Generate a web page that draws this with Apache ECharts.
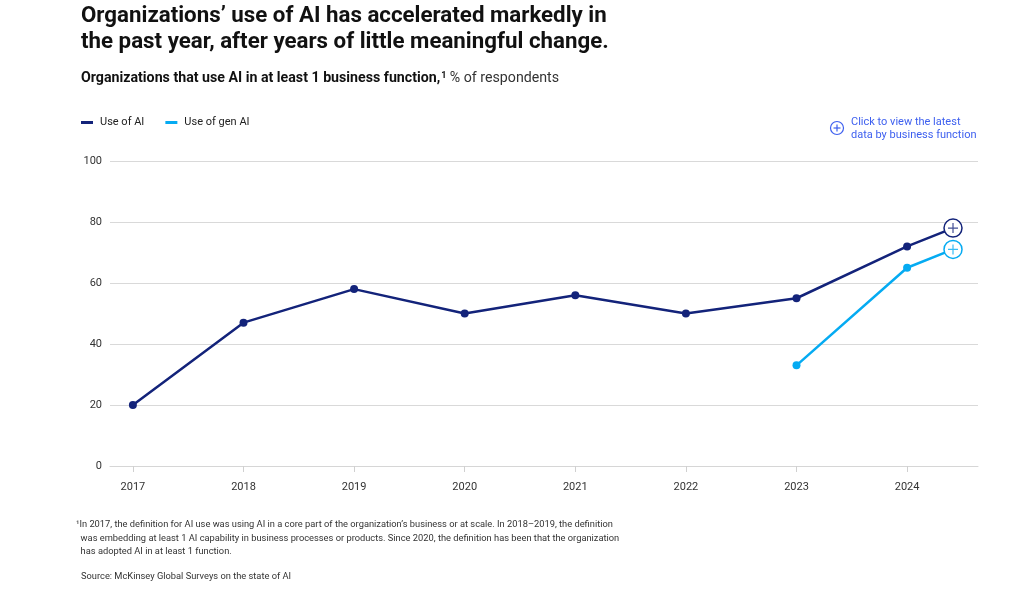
<!DOCTYPE html>
<html>
<head>
<meta charset="utf-8">
<script src="https://cdn.jsdelivr.net/npm/echarts@6/dist/echarts.min.js"></script>
<style>
html,body{margin:0;padding:0;background:#fff;}
#c{width:1024px;height:589px;}
</style>
</head>
<body>
<div id="c"></div>
<script>
// ---- data ----
var years = [2017, 2018, 2019, 2020, 2021, 2022, 2023, 2024];
var aiUse = [20, 47, 58, 50, 56, 50, 55, 72];
var genAiUse = [null, null, null, null, null, null, 33, 65];
var latestYear = 2024.415;
var latestAi = 78;
var latestGenAi = 71;
var yTicks = [0, 20, 40, 60, 80, 100];

var navy = '#13237A';
var cyan = '#05ABF2';
var font = 'Roboto, "Liberation Sans", sans-serif';

function pairs(xs, ys) {
  var out = [];
  for (var i = 0; i < xs.length; i++) if (ys[i] != null) out.push([xs[i], ys[i]]);
  return out;
}
function latestItem(x, y, col) {
  return {value: [x, y], symbol: 'circle', symbolSize: 18,
    itemStyle: {color: '#fff', borderColor: col, borderWidth: 1.5}};
}
var aiData = pairs(years, aiUse).concat([latestItem(latestYear, latestAi, navy)]);
var genData = pairs(years, genAiUse).concat([latestItem(latestYear, latestGenAi, cyan)]);
var plusPath = 'path://M4.4,0H5.6V4.4H10V5.6H5.6V10H4.4V5.6H0V4.4H4.4Z';

var chart = echarts.init(document.getElementById('c'));
chart.setOption({
  animation: false,
  textStyle: {fontFamily: font},
  title: [
    {text: 'Organizations\u2019 use of AI has accelerated markedly in\nthe past year, after years of little meaningful change.',
     left: 81, top: 3, padding: 0,
     textStyle: {fontFamily: font, fontSize: 22.3, fontWeight: 'bold', color: '#111', lineHeight: 26}},
    {text: '{b|Organizations that use AI in at least 1 business function,}{s|1}{r| % of respondents}',
     left: 81, top: 71, padding: 0,
     textStyle: {fontWeight: 'normal', rich: {
       b: {fontFamily: font, fontSize: 14.2, fontWeight: 'bold', color: '#111'},
       s: {fontFamily: font, fontSize: 9, fontWeight: 'bold', color: '#111', verticalAlign: 'top', padding: [0, 0, 6, 1]},
       r: {fontFamily: font, fontSize: 14.2, fontWeight: 'normal', color: '#333'}
     }}},
    {text: 'Click to view the latest\ndata by business function',
     left: 851, top: 116, padding: 0,
     textStyle: {fontFamily: font, fontSize: 11, fontWeight: 'normal', color: '#3D5FEF', lineHeight: 13}},
    {text: '\u00B9In 2017, the definition for AI use was using AI in a core part of the organization\u2019s business or at scale. In 2018\u20132019, the definition\n  was embedding at least 1 AI capability in business processes or products. Since 2020, the definition has been that the organization\n  has adopted AI in at least 1 function.',
     left: 76, top: 518, padding: 0,
     textStyle: {fontFamily: font, fontSize: 9.3, fontWeight: 'normal', color: '#333', lineHeight: 13.5}},
    {text: 'Source: McKinsey Global Surveys on the state of AI',
     left: 81, top: 572, padding: 0,
     textStyle: {fontFamily: font, fontSize: 9.3, fontWeight: 'normal', color: '#333'}}
  ],
  graphic: [
    {type: 'circle', shape: {cx: 837, cy: 128, r: 6.5}, style: {fill: 'none', stroke: '#3D5FEF', lineWidth: 1.2}},
    {type: 'line', shape: {x1: 833.5, y1: 128, x2: 840.5, y2: 128}, style: {stroke: '#3D5FEF', lineWidth: 1.2}},
    {type: 'line', shape: {x1: 837, y1: 124.5, x2: 837, y2: 131.5}, style: {stroke: '#3D5FEF', lineWidth: 1.2}}
  ],
  legend: {
    data: ['Use of AI', 'Use of gen AI'],
    left: 81, top: 117, padding: 0, icon: 'rect', itemWidth: 12, itemHeight: 3, itemGap: 21,
    textStyle: {fontFamily: font, fontSize: 11, color: '#222', padding: [0, 0, 0, 2]}
  },
  grid: {left: 110, right: 46, top: 161, bottom: 123},
  xAxis: {
    type: 'value', min: 2016.793, max: 2024.641,
    splitLine: {show: false},
    axisLine: {show: true, lineStyle: {color: '#d6d6d6', width: 1}},
    axisTick: {show: true, customValues: years, length: 6, lineStyle: {color: '#d0d0d0'}},
    axisLabel: {customValues: years, formatter: function (v) { return String(Math.round(v)); },
      color: '#333', fontSize: 11, margin: 16, fontFamily: font}
  },
  yAxis: {
    type: 'value', min: 0, max: 100, interval: 20,
    axisLine: {show: false}, axisTick: {show: false},
    splitLine: {lineStyle: {color: '#d9d9d9', width: 1}},
    axisLabel: {color: '#333', fontSize: 11, margin: 8, fontFamily: font}
  },
  series: [
    {name: 'Use of AI', type: 'line', data: aiData, color: navy, symbol: 'circle', symbolSize: 8,
     lineStyle: {width: 2.5, color: navy}, itemStyle: {color: navy}, z: 3},
    {name: 'Use of gen AI', type: 'line', data: genData, color: cyan, symbol: 'circle', symbolSize: 8,
     lineStyle: {width: 2.5, color: cyan}, itemStyle: {color: cyan}, z: 3},
    {name: 'plusAi', type: 'scatter', data: [[latestYear, latestAi]], symbol: plusPath, symbolSize: 10,
     itemStyle: {color: navy}, z: 5, silent: true},
    {name: 'plusGen', type: 'scatter', data: [[latestYear, latestGenAi]], symbol: plusPath, symbolSize: 10,
     itemStyle: {color: cyan}, z: 5, silent: true}
  ]
});
</script>
</body>
</html>
